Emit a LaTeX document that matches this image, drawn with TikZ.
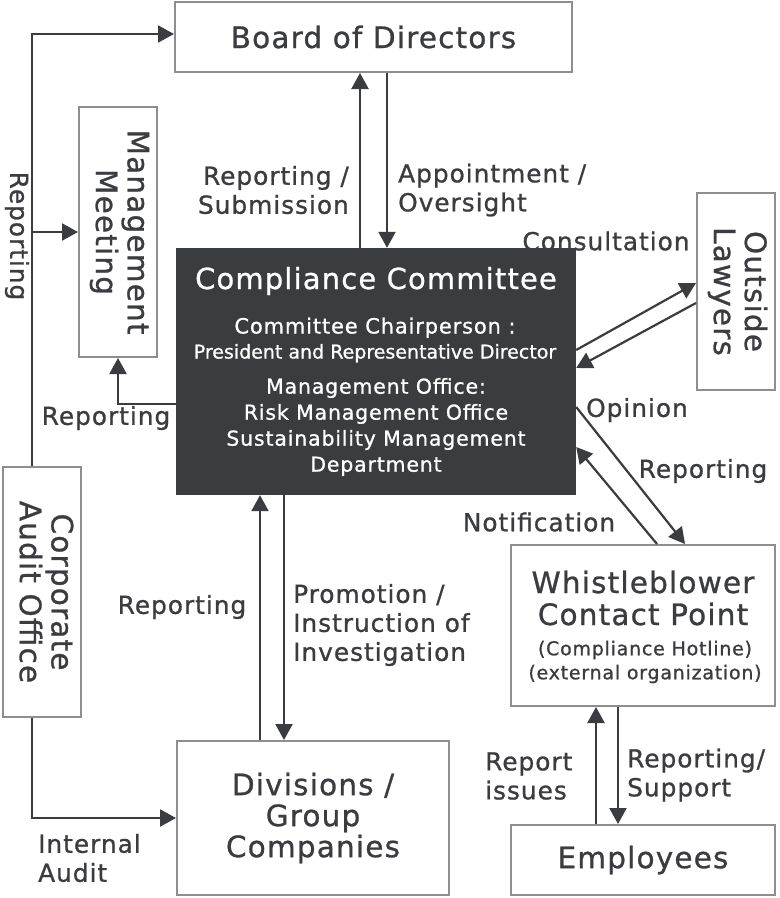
\documentclass[tikz,border=0pt]{standalone}
\usepackage{fontspec}
\setmainfont{DejaVu Sans}[LetterSpace=4,FakeBold=0.9]
\newfontfamily\tightfont{DejaVu Sans}[FakeBold=0.9]
\usetikzlibrary{arrows.meta}
\definecolor{ink}{HTML}{3B3C40}
\definecolor{frame}{HTML}{8E8E8E}
\tikzset{
  box/.style={draw=frame, line width=2pt, fill=white, inner sep=0pt, align=center, text=ink, font=\fontsize{29.5}{31}\selectfont},
  darkbox/.style={fill=ink, inner sep=0pt},
  intext/.style={text=white, inner sep=0pt, align=center},
  lbl/.style={text=ink, inner sep=0pt, align=left, font=\fontsize{24.8}{29}\selectfont},
  arr/.style={draw=ink, line width=2.2pt, -{Triangle[length=16pt,width=17pt]}}
}
\begin{document}
\begin{tikzpicture}[x=1pt,y=-1pt]
\fill[white] (0,0) rectangle (780,898);
\useasboundingbox (0,0) rectangle (780,898);
\node[box, minimum width=397pt, minimum height=70pt] (board) at (373.5,37) {Board of Directors};
\node[box, minimum width=78pt, minimum height=250pt] (mgmt) at (118,232) {\rotatebox{-90}{\begin{tabular}{@{}c@{}}Management\\Meeting\end{tabular}}};
\node[darkbox, minimum width=400pt, minimum height=247pt] (comm) at (376,371.5) {};
\node[intext, font=\fontsize{29}{32}\selectfont] (commtitle) at (376,281) {Compliance Committee};
\node[intext, font=\fontsize{21}{25}\selectfont] (chair) at (375,340) {Committee Chairperson :\\{\tightfont\fontsize{19}{25}\selectfont President and Representative Director}};
\node[intext, font=\fontsize{20.5}{26}\selectfont] (office) at (376,427) {Management Office:\\Risk Management Office\\Sustainability Management\\Department};
\node[box, minimum width=78pt, minimum height=197pt] (lawyers) at (736,291.5) {\rotatebox{-90}{\begin{tabular}{@{}c@{}}Outside\\Lawyers\end{tabular}}};
\node[box, minimum width=78pt, minimum height=250pt] (audit) at (42,592) {\rotatebox{-90}{\begin{tabular}{@{}c@{}}Corporate\\Audit Office\end{tabular}}};
\node[box, minimum width=272pt, minimum height=154pt] (div) at (313,818) {Divisions /\\Group\\Companies};
\node[box, minimum width=264pt, minimum height=161pt] (whistle) at (643,625.5) {};
\node[intext, text=ink, font=\fontsize{29.5}{32}\selectfont] (whistletitle) at (643,598) {Whistleblower\\Contact Point};
\node[intext, text=ink, font=\fontsize{19}{24}\selectfont] (hotline) at (645,662) {(Compliance Hotline)\\(external organization)};
\node[box, minimum width=264pt, minimum height=70pt] (emp) at (643,860) {Employees};
\coordinate (rail) at (32,34);
\draw[arr] (audit.north -| rail) |- (rail -| board.west);
\draw[arr] (rail |- mgmt.west) -- (mgmt.west);
\draw[arr] (audit.south -| rail) |- (div.west);
\draw[arr] ([xshift=-16pt]comm.north) -- ([xshift=-16pt]comm.north |- board.south);
\draw[arr] ([xshift=11pt]comm.north |- board.south) -- ([xshift=11pt]comm.north);
\draw[arr] ([yshift=-32.5pt]comm.west) -| (mgmt.south);
\draw[arr] ([yshift=21.5pt]comm.east) -- ([yshift=8.5pt]lawyers.west);
\draw[arr] ([yshift=-11.5pt]lawyers.west) -- ([yshift=3.5pt]comm.east);
\draw[arr] ([yshift=-35.5pt]comm.east) -- ([xshift=42pt]whistle.north);
\draw[arr] ([xshift=14pt]whistle.north) -- ([yshift=-75.5pt]comm.east);
\draw[arr] ([xshift=-116pt]comm.south |- div.north) -- ([xshift=-116pt]comm.south);
\draw[arr] ([xshift=-92pt]comm.south) -- ([xshift=-92pt]comm.south |- div.north);
\draw[arr] ([xshift=-47pt]emp.north) -- ([xshift=-47pt]whistle.south);
\draw[arr] ([xshift=-25pt]whistle.south) -- ([xshift=-25pt]emp.north);
\node[lbl, rotate=-90] (railrep) at (17,236) {Reporting};
\node[lbl, anchor=east, align=right] (subrep) at (349,190) {Reporting /\\Submission};
\node[lbl, anchor=west] (appoint) at (398,190) {Appointment /\\Oversight};
\node[lbl] (mgmtrep) at (106,418) {Reporting};
\node[lbl] (consult) at (606,241) {Consultation};
\node[lbl] (opinion) at (637,410) {Opinion};
\node[lbl] (hotrep) at (703,471) {Reporting};
\node[lbl] (notify) at (539,522) {Notification};
\node[lbl] (divrep) at (182,607) {Reporting};
\node[lbl, anchor=west] (promote) at (293,625) {Promotion /\\Instruction of\\Investigation};
\node[lbl, anchor=west] (issues) at (485,776) {Report\\issues};
\node[lbl, anchor=west] (support) at (627,775) {Reporting/\\Support};
\node[lbl, anchor=west] (intaudit) at (38,858) {Internal\\Audit};
\end{tikzpicture}
\end{document}
